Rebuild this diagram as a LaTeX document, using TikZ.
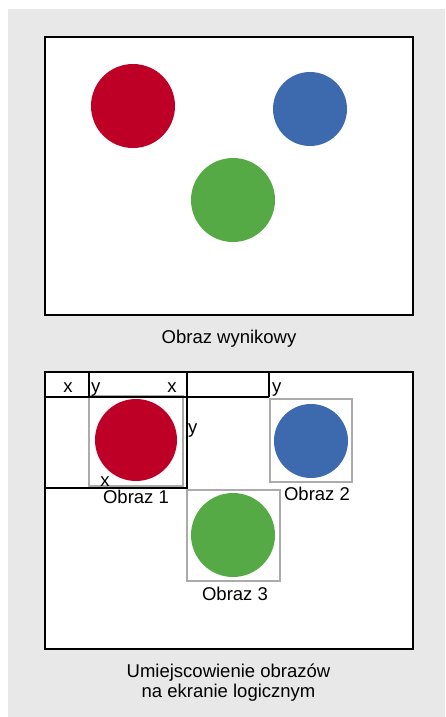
\documentclass[tikz,border=0pt]{standalone}
\usepackage{fontspec}
\setmainfont{Liberation Sans}
\definecolor{bgc}{HTML}{E8E8E8}
\definecolor{redc}{HTML}{BE0027}
\definecolor{bluec}{HTML}{3D6AAE}
\definecolor{greenc}{HTML}{55AA45}
\definecolor{boxc}{HTML}{ABABAB}
\begin{document}
\begin{tikzpicture}[x=1pt,y=-1pt,
  frame/.style={draw=black,line width=2pt,fill=white},
  grid/.style={draw=black,line width=1.5pt},
  imgbox/.style={draw=boxc,line width=1.6pt},
  dot/.style={circle,inner sep=0pt,draw=none},
  lbl/.style={inner sep=0pt,font=\fontsize{18.5}{21}\selectfont,anchor=base},
  axl/.style={inner sep=0pt,font=\fontsize{18.5}{21}\selectfont,anchor=base west}]
\useasboundingbox (0,0) rectangle (445,717);
\fill[bgc] (8,9) rectangle (445,717);
% top picture
\draw[frame] (45,37) rectangle (413,315);
\node[dot,fill=redc,minimum size=84pt] (r1) at (133,106) {};
\node[dot,fill=bluec,minimum size=74pt] (b1) at (310,109) {};
\node[dot,fill=greenc,minimum size=84pt] (g1) at (233,200) {};
\node[lbl] (cap1) at (229,343) {Obraz wynikowy};
% bottom picture
\draw[frame] (45,372) rectangle (413,649);
\draw[imgbox] (89,396) rectangle (183,486);
\draw[imgbox] (270,399) rectangle (352,482);
\draw[imgbox] (187,490) rectangle (280,581);
\node[dot,fill=redc,minimum size=82pt] (r2) at (136,440) {};
\node[dot,fill=bluec,minimum size=74pt] (b2) at (311,441) {};
\node[dot,fill=greenc,minimum size=84pt] (g2) at (233,535) {};
% grid lines
\draw[grid] (45,397) -- (269,397);
\draw[grid] (89,372) -- (89,397);
\draw[grid] (187,372) -- (187,489);
\draw[grid] (269,372) -- (269,397);
\draw[grid] (45,488) -- (187,488);
% axis letters
\node[lbl] (x1) at (68,392) {x};
\node[axl] (y1) at (91,392) {y};
\node[lbl] (x2) at (172,392) {x};
\node[axl] (y2) at (272,392) {y};
\node[axl] (y3) at (188,433) {y};
\node[lbl] (x3) at (105,486) {x};
% labels
\node[lbl] (o1) at (136,503) {Obraz 1};
\node[lbl] (o2) at (317,500) {Obraz 2};
\node[lbl] (o3) at (235,600) {Obraz 3};
\node[lbl] (cap2) at (228.5,677.5) {Umiejscowienie obrazów};
\node[lbl] (cap3) at (228.5,697.5) {na ekranie logicznym};
\end{tikzpicture}
\end{document}
